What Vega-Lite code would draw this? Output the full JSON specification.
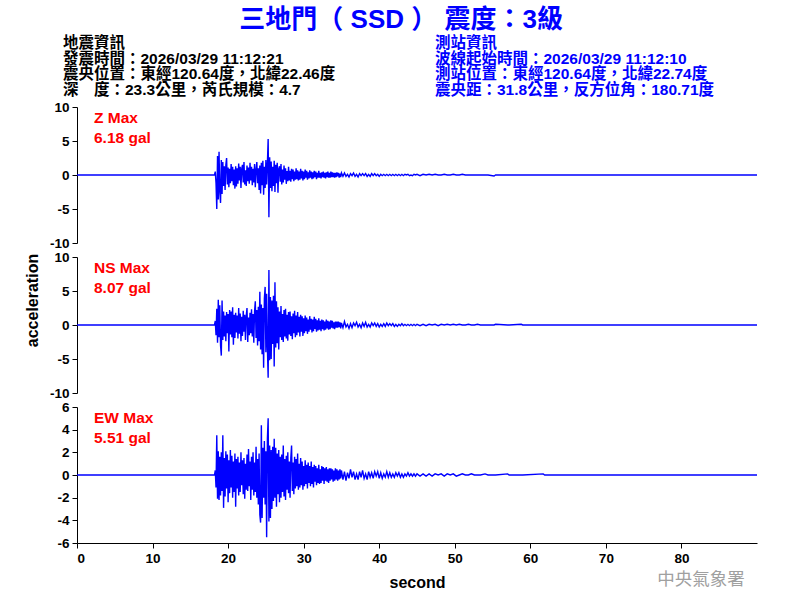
{
"$schema": "https://vega.github.io/schema/vega-lite/v6.json",
"background": "white",
"padding": {"left": 24, "top": 6, "right": 5, "bottom": 5},
"title": {"text": "三地門（ SSD ） 震度：3級", "fontSize": 26, "fontWeight": "bold", "color": "#0000FF", "font": "Liberation Sans, Noto Sans CJK TC", "anchor": "middle", "offset": 3, "dx": 9},
"config": {
  "view": {"stroke": null},
  "font": "Liberation Sans",
  "axis": {"labelFont": "Liberation Sans", "labelFontWeight": "bold", "labelFontSize": 13.5, "labelColor": "black", "labelOverlap": false, "labelExpr": "toString(datum.value)", "domainColor": "black", "tickColor": "black", "tickSize": 5, "labelPadding": 3, "grid": false, "titleFont": "Liberation Sans", "titleFontSize": 16, "titleFontWeight": "bold", "titleColor": "black"}
},
"datasets": {
"w": [
{"t":0,"z":0,"n":0,"e":0},
{"t":18.2,"z":0,"n":0,"e":0},
{"t":18.3,"z":0.5,"n":0.6,"e":0.4},
{"t":18.4,"z":-1.2,"n":-1.5,"e":-1.1},
{"t":18.5,"z":-5.0,"n":2.4,"e":3.5},
{"t":18.6,"z":2.8,"n":-2.6,"e":-2.1},
{"t":18.7,"z":-3.6,"n":3.7,"e":2.1},
{"t":18.8,"z":3.4,"n":-1.8,"e":-2.2},
{"t":18.9,"z":-2.5,"n":2.9,"e":1.6},
{"t":19.0,"z":-4.1,"n":-3.0,"e":-1.8},
{"t":19.1,"z":2.2,"n":-4.5,"e":2.0},
{"t":19.2,"z":-2.8,"n":3.6,"e":-1.4},
{"t":19.3,"z":1.9,"n":-2.2,"e":3.5},
{"t":19.4,"z":-1.6,"n":2.0,"e":-2.9},
{"t":19.5,"z":1.3,"n":-1.7,"e":1.5},
{"t":19.6,"z":-2.2,"n":1.4,"e":-1.9},
{"t":19.7,"z":1.5,"n":-2.4,"e":2.1},
{"t":19.8,"z":2.5,"n":1.9,"e":-1.2},
{"t":19.9,"z":-1.4,"n":-1.2,"e":1.8},
{"t":20.0,"z":1.1,"n":1.6,"e":-2.4},
{"t":20.1,"z":-1.8,"n":-3.9,"e":1.3},
{"t":20.2,"z":0.9,"n":2.2,"e":-1.6},
{"t":20.3,"z":-1.2,"n":-1.4,"e":2.2},
{"t":20.4,"z":1.6,"n":2.0,"e":-1.1},
{"t":20.5,"z":-0.9,"n":-1.8,"e":1.7},
{"t":20.6,"z":1.2,"n":2.6,"e":-2.0},
{"t":20.7,"z":-1.5,"n":-2.9,"e":1.2},
{"t":20.8,"z":0.8,"n":1.5,"e":-1.5},
{"t":20.9,"z":-2.0,"n":-1.9,"e":1.9},
{"t":21.0,"z":1.3,"n":1.8,"e":-2.8},
{"t":21.1,"z":-1.7,"n":-1.1,"e":1.4},
{"t":21.2,"z":1.0,"n":1.4,"e":-1.2},
{"t":21.3,"z":-1.3,"n":-2.0,"e":1.6},
{"t":21.4,"z":1.7,"n":2.5,"e":-1.8},
{"t":21.5,"z":-0.8,"n":-1.3,"e":1.1},
{"t":21.6,"z":1.2,"n":1.7,"e":-1.5},
{"t":21.7,"z":-1.9,"n":-2.4,"e":2.0},
{"t":21.8,"z":0.9,"n":1.2,"e":-0.9},
{"t":21.9,"z":1.5,"n":-1.6,"e":1.3},
{"t":22.0,"z":-1.1,"n":2.1,"e":-1.7},
{"t":22.1,"z":1.9,"n":-1.0,"e":1.5},
{"t":22.2,"z":-1.4,"n":1.5,"e":-2.1},
{"t":22.3,"z":0.7,"n":-2.2,"e":1.0},
{"t":22.4,"z":-1.6,"n":1.3,"e":-1.3},
{"t":22.5,"z":1.4,"n":2.5,"e":1.8},
{"t":22.6,"z":-0.9,"n":-2.5,"e":-1.4},
{"t":22.7,"z":1.1,"n":1.1,"e":2.3},
{"t":22.8,"z":-1.3,"n":-1.5,"e":-1.0},
{"t":22.9,"z":1.8,"n":1.8,"e":1.2},
{"t":23.0,"z":-0.8,"n":-1.2,"e":-2.2},
{"t":23.1,"z":1.2,"n":2.3,"e":1.6},
{"t":23.2,"z":-1.5,"n":-1.7,"e":-1.3},
{"t":23.3,"z":0.9,"n":1.6,"e":2.0},
{"t":23.4,"z":-1.1,"n":-2.6,"e":-1.8},
{"t":23.5,"z":1.6,"n":2.0,"e":1.1},
{"t":23.6,"z":-1.8,"n":3.5,"e":-1.5},
{"t":23.7,"z":0.8,"n":-1.9,"e":2.5},
{"t":23.8,"z":1.9,"n":2.2,"e":-2.0},
{"t":23.9,"z":-1.2,"n":-3.0,"e":1.4},
{"t":24.0,"z":1.0,"n":2.7,"e":-2.6},
{"t":24.1,"z":-2.2,"n":-2.4,"e":1.9},
{"t":24.2,"z":1.4,"n":4.9,"e":-3.5},
{"t":24.3,"z":-2.7,"n":-3.6,"e":-4.2},
{"t":24.4,"z":1.8,"n":3.0,"e":4.4},
{"t":24.5,"z":-1.5,"n":-4.3,"e":-3.8},
{"t":24.6,"z":2.1,"n":2.5,"e":2.4},
{"t":24.7,"z":-2.9,"n":-6.3,"e":-2.0},
{"t":24.8,"z":1.2,"n":3.9,"e":3.0},
{"t":24.9,"z":-1.9,"n":5.6,"e":-2.6},
{"t":25.0,"z":2.2,"n":-4.0,"e":2.1},
{"t":25.1,"z":-1.4,"n":4.6,"e":-5.5},
{"t":25.2,"z":1.7,"n":-3.4,"e":3.2},
{"t":25.3,"z":5.3,"n":-7.75,"e":5.0},
{"t":25.4,"z":-6.2,"n":8.1,"e":-4.1},
{"t":25.5,"z":2.6,"n":-5.2,"e":2.6},
{"t":25.6,"z":-1.9,"n":4.1,"e":-3.8},
{"t":25.7,"z":2.0,"n":-5.0,"e":2.2},
{"t":25.8,"z":-2.4,"n":3.6,"e":-3.0},
{"t":25.9,"z":1.2,"n":-2.8,"e":2.5},
{"t":26.0,"z":-1.6,"n":4.3,"e":-2.3},
{"t":26.1,"z":2.1,"n":-6.1,"e":3.2},
{"t":26.2,"z":-2.5,"n":6.3,"e":-2.0},
{"t":26.3,"z":1.5,"n":-3.3,"e":2.4},
{"t":26.4,"z":-1.2,"n":3.5,"e":-2.8},
{"t":26.5,"z":1.8,"n":-2.7,"e":1.9},
{"t":26.6,"z":-2.6,"n":2.6,"e":-1.7},
{"t":26.7,"z":0.9,"n":-3.6,"e":2.2},
{"t":26.8,"z":1.3,"n":2.0,"e":-2.4},
{"t":26.9,"z":-1.0,"n":-1.8,"e":1.6},
{"t":27.0,"z":1.6,"n":2.8,"e":-2.0},
{"t":27.1,"z":-1.4,"n":-2.2,"e":1.8},
{"t":27.2,"z":0.8,"n":1.6,"e":-1.5},
{"t":27.3,"z":-1.1,"n":-2.5,"e":2.6},
{"t":27.4,"z":1.4,"n":2.2,"e":-1.9},
{"t":27.5,"z":-0.7,"n":-1.7,"e":1.4},
{"t":27.6,"z":1.0,"n":2.4,"e":-2.2},
{"t":27.7,"z":-1.3,"n":-2.0,"e":1.7},
{"t":27.8,"z":0.6,"n":1.5,"e":-1.3},
{"t":27.9,"z":-0.9,"n":-2.3,"e":2.0},
{"t":28.0,"z":1.2,"n":1.9,"e":-1.6},
{"t":28.1,"z":-0.8,"n":-1.4,"e":1.2},
{"t":28.2,"z":0.6,"n":2.0,"e":-2.0},
{"t":28.3,"z":-1.0,"n":-1.6,"e":1.5},
{"t":28.4,"z":0.9,"n":1.3,"e":2.6},
{"t":28.5,"z":-0.6,"n":-2.1,"e":-1.4},
{"t":28.6,"z":0.8,"n":1.7,"e":1.1},
{"t":28.7,"z":-0.9,"n":-1.2,"e":-1.7},
{"t":28.8,"z":0.5,"n":2.1,"e":1.6},
{"t":28.9,"z":-0.7,"n":-1.8,"e":-1.2},
{"t":29.0,"z":1.0,"n":1.4,"e":1.4},
{"t":29.1,"z":-0.6,"n":-1.5,"e":-1.0},
{"t":29.2,"z":0.7,"n":1.9,"e":1.9},
{"t":29.3,"z":-0.8,"n":-1.1,"e":-1.3},
{"t":29.4,"z":0.5,"n":1.2,"e":1.0},
{"t":29.5,"z":-0.7,"n":-1.7,"e":-1.1},
{"t":29.6,"z":0.9,"n":1.5,"e":1.5},
{"t":29.7,"z":-0.5,"n":-1.0,"e":-0.9},
{"t":29.8,"z":0.6,"n":1.3,"e":1.2},
{"t":29.9,"z":-0.8,"n":-1.6,"e":-1.3},
{"t":30.0,"z":0.5,"n":1.0,"e":0.8},
{"t":30.1,"z":-0.6,"n":-1.2,"e":-1.0},
{"t":30.2,"z":0.8,"n":1.4,"e":1.3},
{"t":30.3,"z":-0.4,"n":-0.9,"e":-0.8},
{"t":30.4,"z":0.6,"n":1.1,"e":0.9},
{"t":30.5,"z":-0.7,"n":-1.3,"e":-1.2},
{"t":30.6,"z":0.4,"n":0.8,"e":1.1},
{"t":30.7,"z":-0.5,"n":-1.0,"e":-0.7},
{"t":30.8,"z":0.7,"n":1.3,"e":0.8},
{"t":30.9,"z":-0.4,"n":-0.7,"e":-1.0},
{"t":31.0,"z":0.5,"n":0.9,"e":1.2},
{"t":31.1,"z":-0.6,"n":-1.1,"e":-0.8},
{"t":31.2,"z":0.4,"n":0.8,"e":0.7},
{"t":31.3,"z":-0.5,"n":-0.9,"e":-1.1},
{"t":31.4,"z":0.6,"n":1.2,"e":0.9},
{"t":31.5,"z":-0.3,"n":-0.6,"e":-0.6},
{"t":31.6,"z":0.5,"n":0.9,"e":0.8},
{"t":31.7,"z":-0.6,"n":-1.0,"e":-0.9},
{"t":31.8,"z":0.3,"n":0.7,"e":0.6},
{"t":31.9,"z":-0.4,"n":-0.8,"e":-0.7},
{"t":32.0,"z":0.6,"n":1.0,"e":0.9},
{"t":32.1,"z":-0.4,"n":-0.7,"e":-0.8},
{"t":32.2,"z":0.3,"n":0.6,"e":0.5},
{"t":32.3,"z":-0.5,"n":-0.9,"e":-0.7},
{"t":32.4,"z":0.4,"n":0.8,"e":0.8},
{"t":32.5,"z":-0.3,"n":-0.6,"e":-0.5},
{"t":32.6,"z":0.5,"n":0.7,"e":0.7},
{"t":32.7,"z":-0.4,"n":-0.8,"e":-0.8},
{"t":32.8,"z":0.3,"n":0.5,"e":0.6},
{"t":32.9,"z":-0.5,"n":-0.7,"e":-0.5},
{"t":33.0,"z":0.4,"n":0.8,"e":0.7},
{"t":33.1,"z":-0.3,"n":-0.5,"e":-0.6},
{"t":33.2,"z":0.5,"n":0.6,"e":0.5},
{"t":33.3,"z":-0.4,"n":-0.7,"e":-0.7},
{"t":33.4,"z":0.3,"n":0.5,"e":0.6},
{"t":33.5,"z":-0.4,"n":-0.6,"e":-0.5},
{"t":33.6,"z":0.5,"n":0.7,"e":0.6},
{"t":33.7,"z":-0.3,"n":-0.4,"e":-0.4},
{"t":33.8,"z":0.4,"n":0.6,"e":0.5},
{"t":33.9,"z":-0.3,"n":-0.5,"e":-0.6},
{"t":34.0,"z":0.3,"n":0.4,"e":0.4},
{"t":34.1,"z":-0.4,"n":-0.6,"e":-0.5},
{"t":34.2,"z":0.3,"n":0.5,"e":0.6},
{"t":34.3,"z":-0.3,"n":-0.4,"e":-0.4},
{"t":34.4,"z":0.4,"n":0.5,"e":0.5},
{"t":34.5,"z":-0.2,"n":-0.4,"e":-0.5},
{"t":34.6,"z":0.3,"n":0.5,"e":0.4},
{"t":34.7,"z":-0.4,"n":-0.3,"e":-0.4},
{"t":34.8,"z":0.2,"n":0.4,"e":0.5},
{"t":34.9,"z":-0.3,"n":-0.5,"e":-0.3},
{"t":35.0,"z":0.3,"n":0.3,"e":0.4},
{"t":35.2,"z":-0.2,"n":-0.4,"e":-0.4},
{"t":35.4,"z":0.3,"n":0.5,"e":0.3},
{"t":35.6,"z":-0.2,"n":-0.3,"e":-0.5},
{"t":35.8,"z":0.1,"n":0.1,"e":0.2},
{"t":36.0,"z":-0.3,"n":-0.5,"e":-0.3},
{"t":36.2,"z":0.2,"n":0.2,"e":0.5},
{"t":36.4,"z":-0.1,"n":-0.4,"e":-0.2},
{"t":36.6,"z":0.3,"n":0.3,"e":0.3},
{"t":36.8,"z":-0.2,"n":-0.1,"e":-0.4},
{"t":37.0,"z":0.1,"n":0.4,"e":0.1},
{"t":37.2,"z":-0.3,"n":-0.3,"e":-0.4},
{"t":37.4,"z":0.2,"n":0.1,"e":0.3},
{"t":37.6,"z":-0.1,"n":-0.4,"e":-0.2},
{"t":37.8,"z":0.2,"n":0.3,"e":0.4},
{"t":38.0,"z":-0.1,"n":-0.2,"e":-0.3},
{"t":38.2,"z":0.2,"n":0.4,"e":0.1},
{"t":38.4,"z":-0.2,"n":-0.3,"e":-0.4},
{"t":38.6,"z":0.1,"n":0.1,"e":0.3},
{"t":38.8,"z":-0.2,"n":-0.3,"e":-0.2},
{"t":39.0,"z":0.2,"n":0.3,"e":0.2},
{"t":39.2,"z":-0.1,"n":-0.1,"e":-0.3},
{"t":39.4,"z":0.2,"n":0.3,"e":0.3},
{"t":39.6,"z":-0.1,"n":-0.2,"e":-0.1},
{"t":39.8,"z":0.1,"n":0.2,"e":0.3},
{"t":40.0,"z":-0.2,"n":-0.3,"e":-0.3},
{"t":40.2,"z":0.1,"n":0.1,"e":0.2},
{"t":40.4,"z":-0.1,"n":-0.2,"e":-0.3},
{"t":40.6,"z":0.1,"n":0.2,"e":0.1},
{"t":40.8,"z":-0.1,"n":-0.2,"e":-0.2},
{"t":41.0,"z":0.1,"n":0.3,"e":0.3},
{"t":41.2,"z":-0.1,"n":-0.1,"e":-0.2},
{"t":41.4,"z":0.1,"n":0.2,"e":0.2},
{"t":41.6,"z":-0.1,"n":-0.1,"e":-0.2},
{"t":41.8,"z":0.1,"n":0.2,"e":0.1},
{"t":42.0,"z":-0.1,"n":-0.2,"e":-0.2},
{"t":42.2,"z":0.1,"n":0.1,"e":0.2},
{"t":42.4,"z":-0.1,"n":-0.2,"e":-0.1},
{"t":42.6,"z":0.1,"n":0.1,"e":0.2},
{"t":42.8,"z":-0.1,"n":-0.1,"e":-0.2},
{"t":43.0,"z":0.1,"n":0.2,"e":0.1},
{"t":43.2,"z":-0.1,"n":-0.1,"e":-0.2},
{"t":43.4,"z":0.1,"n":0.1,"e":0.1},
{"t":43.6,"z":0.0,"n":-0.1,"e":-0.1},
{"t":43.8,"z":0.1,"n":0.1,"e":0.2},
{"t":44.0,"z":-0.1,"n":-0.1,"e":-0.1},
{"t":44.2,"z":0.0,"n":0.1,"e":0.1},
{"t":44.4,"z":-0.1,"n":-0.1,"e":-0.1},
{"t":44.6,"z":0.1,"n":0.1,"e":0.1},
{"t":44.8,"z":0.0,"n":-0.1,"e":-0.1},
{"t":45.0,"z":0.1,"n":0.1,"e":0.1},
{"t":45.4,"z":-0.1,"n":-0.1,"e":-0.1},
{"t":45.8,"z":0.1,"n":0.1,"e":0.1},
{"t":46.2,"z":0,"n":-0.1,"e":-0.1},
{"t":46.6,"z":0.1,"n":0.1,"e":0.1},
{"t":47.0,"z":0,"n":0,"e":-0.1},
{"t":47.4,"z":0.1,"n":0.1,"e":0.1},
{"t":47.8,"z":0,"n":-0.1,"e":0},
{"t":48.2,"z":0,"n":0.1,"e":0.1},
{"t":48.6,"z":0.1,"n":0,"e":-0.1},
{"t":49.0,"z":0,"n":0.1,"e":0.1},
{"t":49.4,"z":0,"n":0,"e":0},
{"t":49.8,"z":0.1,"n":0.1,"e":0.1},
{"t":50.2,"z":0,"n":0,"e":-0.1},
{"t":50.6,"z":0,"n":0.1,"e":0},
{"t":51.0,"z":0.1,"n":0,"e":0.1},
{"t":51.4,"z":0,"n":0,"e":0},
{"t":51.8,"z":0,"n":0.1,"e":0},
{"t":52.2,"z":0,"n":0,"e":0.1},
{"t":52.6,"z":0,"n":0,"e":0},
{"t":53.0,"z":0,"n":0.1,"e":0},
{"t":53.4,"z":0,"n":0,"e":0},
{"t":54.0,"z":0,"n":0,"e":0.1},
{"t":54.4,"z":0,"n":0,"e":0},
{"t":55.2,"z":-0.15,"n":0,"e":0},
{"t":55.4,"z":0,"n":0.1,"e":0},
{"t":57.0,"z":0,"n":0,"e":0.1},
{"t":57.2,"z":0,"n":0,"e":0},
{"t":58.8,"z":0,"n":0.1,"e":0},
{"t":59.0,"z":0,"n":0,"e":0},
{"t":61.7,"z":0,"n":0,"e":0.1},
{"t":61.9,"z":0,"n":0,"e":0},
{"t":90,"z":0,"n":0,"e":0}
]
},
"spacing": 1,
"bounds": "flush",
"vconcat": [
  {
    "hconcat": [
      {
        "width": 358, "height": 1,
        "data": {"values": [{"s": ""}]},
        "mark": {"type": "text"},
        "encoding": {"text": {"field": "s"}},
        "title": {"text": ["地震資訊", "發震時間：2026/03/29 11:12:21", "震央位置：東經120.64度，北緯22.46度", "深　度：23.3公里，芮氏規模：4.7"], "anchor": "start", "frame": "group", "dx": -14, "fontSize": 15.5, "fontWeight": "bold", "color": "black", "lineHeight": 15.7, "offset": 2, "font": "Liberation Sans, Noto Sans CJK TC"}
      },
      {
        "width": 322, "height": 1,
        "data": {"values": [{"s": ""}]},
        "mark": {"type": "text"},
        "encoding": {"text": {"field": "s"}},
        "title": {"text": ["測站資訊", "波線起始時間：2026/03/29 11:12:10", "測站位置：東經120.64度，北緯22.74度", "震央距：31.8公里，反方位角：180.71度"], "anchor": "start", "frame": "group", "fontSize": 15.5, "fontWeight": "bold", "color": "#0000FF", "lineHeight": 15.7, "offset": 2, "font": "Liberation Sans, Noto Sans CJK TC"}
      }
    ],
    "spacing": 0
  },
  {
    "vconcat": [
      {
        "width": 680, "height": 136,
        "layer": [
          {
            "data": {"name": "w"},
            "mark": {"type": "line", "color": "#0000FF", "strokeWidth": 1.4},
            "encoding": {
              "x": {"field": "t", "type": "quantitative", "scale": {"domain": [0, 90], "nice": false}, "axis": null},
              "y": {"field": "z", "type": "quantitative", "scale": {"domain": [-10, 10], "nice": false}, "axis": {"values": [-10, -5, 0, 5, 10], "tickCount": 20, "title": null, "labelOverlap": false}}
            }
          },
          {
            "data": {"values": [{"label": "Z Max\n6.18 gal"}]},
            "mark": {"type": "text", "align": "left", "baseline": "top", "lineBreak": "\n", "lineHeight": 20, "color": "#FF0000", "fontSize": 15.5, "fontWeight": "bold", "font": "Liberation Sans"},
            "encoding": {"x": {"datum": 2.25, "type": "quantitative"}, "y": {"datum": 9.4, "type": "quantitative"}, "text": {"field": "label"}}
          }
        ]
      },
      {
        "width": 680, "height": 136,
        "layer": [
          {
            "data": {"name": "w"},
            "mark": {"type": "line", "color": "#0000FF", "strokeWidth": 1.4},
            "encoding": {
              "x": {"field": "t", "type": "quantitative", "scale": {"domain": [0, 90], "nice": false}, "axis": null},
              "y": {"field": "n", "type": "quantitative", "scale": {"domain": [-10, 10], "nice": false}, "axis": {"values": [-10, -5, 0, 5, 10], "tickCount": 20, "title": "acceleration", "titleY": 43, "titlePadding": 9, "labelOverlap": false}}
            }
          },
          {
            "data": {"values": [{"label": "NS Max\n8.07 gal"}]},
            "mark": {"type": "text", "align": "left", "baseline": "top", "lineBreak": "\n", "lineHeight": 20, "color": "#FF0000", "fontSize": 15.5, "fontWeight": "bold", "font": "Liberation Sans"},
            "encoding": {"x": {"datum": 2.25, "type": "quantitative"}, "y": {"datum": 9.4, "type": "quantitative"}, "text": {"field": "label"}}
          }
        ]
      },
      {
        "width": 680, "height": 136,
        "layer": [
          {
            "data": {"name": "w"},
            "mark": {"type": "line", "color": "#0000FF", "strokeWidth": 1.4},
            "encoding": {
              "x": {"field": "t", "type": "quantitative", "scale": {"domain": [0, 90], "nice": false}, "axis": {"values": [0, 10, 20, 30, 40, 50, 60, 70, 80], "tickCount": 20, "title": "second", "titlePadding": 10, "labelOverlap": false}},
              "y": {"field": "e", "type": "quantitative", "scale": {"domain": [-6, 6], "nice": false}, "axis": {"values": [-6, -4, -2, 0, 2, 4, 6], "tickCount": 20, "title": null, "labelOverlap": false}}
            }
          },
          {
            "data": {"values": [{"label": "EW Max\n5.51 gal"}]},
            "mark": {"type": "text", "align": "left", "baseline": "top", "lineBreak": "\n", "lineHeight": 20, "color": "#FF0000", "fontSize": 15.5, "fontWeight": "bold", "font": "Liberation Sans"},
            "encoding": {"x": {"datum": 2.25, "type": "quantitative"}, "y": {"datum": 5.65, "type": "quantitative"}, "text": {"field": "label"}}
          },
          {
            "data": {"values": [{"label": "中央氣象署"}]},
            "mark": {"type": "text", "align": "left", "baseline": "middle", "color": "#A0A0A0", "fontSize": 17.5, "font": "Noto Sans CJK TC"},
            "encoding": {"x": {"datum": 76.8, "type": "quantitative"}, "y": {"datum": -9.3, "type": "quantitative"}, "text": {"field": "label"}}
          }
        ]
      }
    ],
    "spacing": 14,
    "bounds": "flush"
  }
]
}
